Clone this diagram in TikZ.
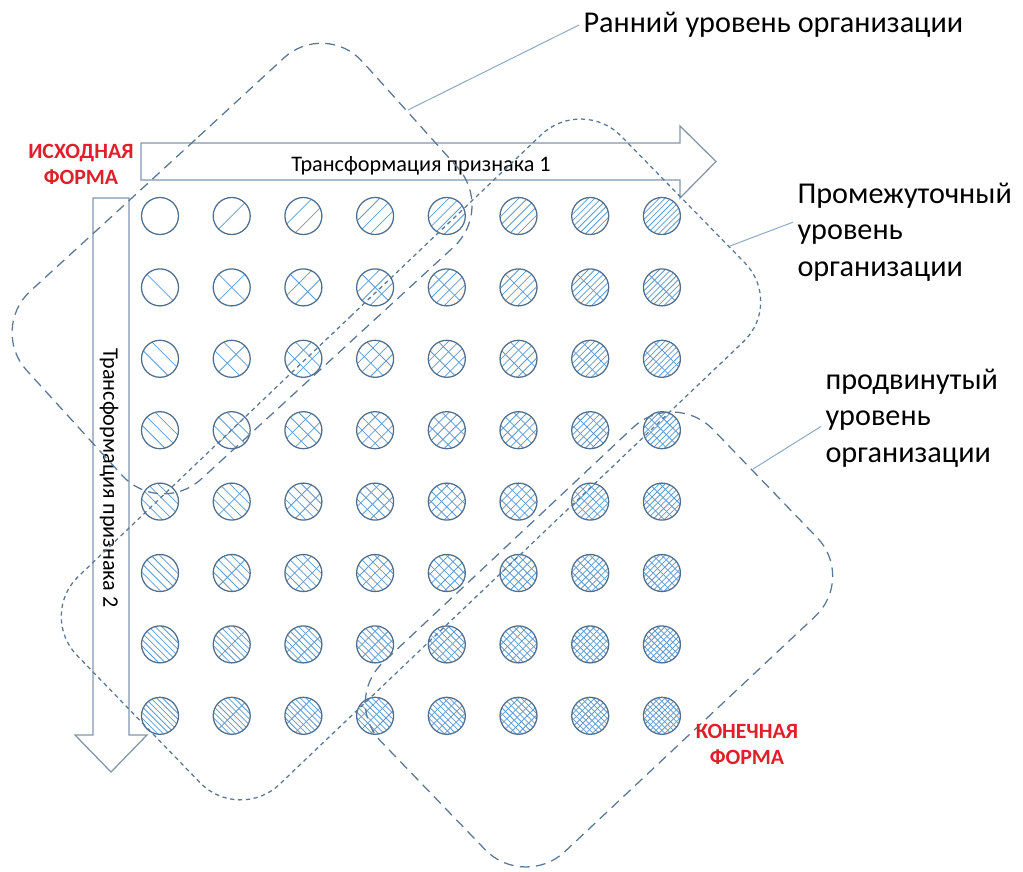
\documentclass[tikz,border=0pt]{standalone}
\usepackage{fontspec}
\setmainfont{Carlito}
\usetikzlibrary{calc}

\definecolor{ring}{HTML}{506E8E}
\definecolor{hatchblue}{HTML}{5E9AD2}
\definecolor{frame}{HTML}{5A7896}
\definecolor{arrowline}{HTML}{8396AE}
\definecolor{leaderline}{HTML}{8DA8C4}
\definecolor{formred}{HTML}{E01F2B}

% hatching of one dot: \nb lines "\" and \ns lines "/"
\newcommand{\hatchdot}{%
  \begin{scope}[shift={(path picture bounding box.center)}]
    \ifnum\nb>0
      \foreach \i in {1,...,\nb}{
        \pgfmathsetmacro\off{\rr*(2*\i/(\nb+1)-1)/sqrt(2)}
        \draw[hatch] ({\off-\rr},{-(\off)-\rr}) -- ({\off+\rr},{-(\off)+\rr});
      }
    \fi
    \ifnum\ns>0
      \foreach \i in {1,...,\ns}{
        \pgfmathsetmacro\off{\rr*(2*\i/(\ns+1)-1)/sqrt(2)}
        \draw[hatch] ({\off-\rr},{\off+\rr}) -- ({\off+\rr},{\off-\rr});
      }
    \fi
  \end{scope}}

\tikzset{
  dot/.style={circle, draw=ring, line width=0.9pt, minimum size=0.925cm,
    inner sep=0pt, path picture={\hatchdot}},
  hatch/.style={hatchblue, line width=0.55pt},
  arrowbox/.style={draw=arrowline, fill=white, line width=0.9pt},
  level/.style={draw=frame, line width=0.9pt, rounded corners=1.4cm,
    dash pattern=on 7pt off 4.5pt},
  midlevel/.style={level, dash pattern=on 3pt off 2.6pt},
  leader/.style={leaderline, line width=0.7pt},
  lbl/.style={inner sep=3pt, font=\fontsize{21.5}{26}\selectfont, align=left},
  formlbl/.style={inner sep=2pt, text=formred, align=center,
    font=\fontsize{15.5}{18.5}\selectfont\bfseries},
  arrlbl/.style={inner sep=2pt, font=\fontsize{15.8}{18}\selectfont},
}

\begin{document}
\begin{tikzpicture}[x=0.025cm, y=-0.025cm]
\useasboundingbox (0,0) rectangle (1023,872);
\def\xs{71.7} % column step (px)
\def\ys{71.4} % row step (px)
\def\rr{18.5} % radius of a dot (px)

% arrows
\draw[arrowbox] (141,143) -- (680,143) -- (680,126) -- (716,161.5)
  -- (680,198) -- (680,180) -- (141,180) -- cycle;
\draw[arrowbox] (93,198) -- (129,198) -- (129,735) -- (147,735)
  -- (111,772) -- (75,735) -- (93,735) -- cycle;
\node[arrlbl] (feat1) at (421,166) {Трансформация признака 1};
\node[arrlbl, rotate=-90] (feat2) at (109,478) {Трансформация признака 2};

% 8x8 grid of dots
\foreach \row in {1,...,8}
{
  \foreach \col in {1,...,8}
  {
    \pgfmathtruncatemacro\nb{floor((\row-1)*1.2)}
    \pgfmathtruncatemacro\ns{floor((\col-1)*1.2)}
    \node[dot] (d\row\col) at ({160+(\col-1)*\xs},{216+(\row-1)*\ys}) {};
  }
}

% levels of organisation
\draw[level] (157,175) -- (325,20) -- (495,209) -- (160,517) -- (-11,329) -- cycle;
\draw[midlevel] (310,355) -- (582,96) -- (784,303) -- (239,823) -- (38,615) -- cycle;
\draw[level] (508,545) -- (674,389) -- (856,578) -- (524,890) -- (342,701) -- cycle;

\coordinate (e1) at (408,110);
\coordinate (e2) at (730,246);
\coordinate (e3) at (753,469);

% labels
\node[lbl, anchor=west] (early) at (579,25) {Ранний уровень организации};
\node[lbl, anchor=west] (mid) at (793,232) {Промежуточный\\уровень\\организации};
\node[lbl, anchor=west] (adv) at (821,418) {продвинутый\\уровень\\организации};
\node[formlbl] (start) at (81,164) {ИСХОДНАЯ\\ФОРМА};
\node[formlbl] (final) at (747,744) {КОНЕЧНАЯ\\ФОРМА};

\draw[leader] (e1) -- (early.west);
\draw[leader] (e2) -- ([yshift=7pt]mid.west);
\draw[leader] (e3) -- ([yshift=-6pt]adv.west);
\end{tikzpicture}
\end{document}
